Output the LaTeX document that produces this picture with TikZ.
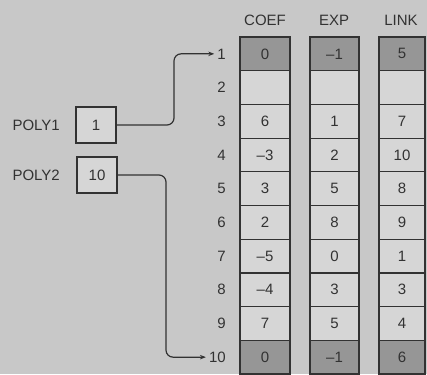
\documentclass[tikz,border=0pt]{standalone}
\usepackage{fontspec}
\setmainfont{Liberation Sans}
\usetikzlibrary{arrows.meta}
\definecolor{bg}{RGB}{200,200,200}
\definecolor{cell}{RGB}{214,214,214}
\definecolor{dark}{RGB}{150,150,150}
\definecolor{ink}{RGB}{50,50,50}
\begin{document}
\begin{tikzpicture}[x=1pt,y=-1pt,
  txt/.style={font=\fontsize{15}{17}\selectfont, text=ink, inner sep=0pt},
  cellbox/.style={txt, draw=ink, line width=1.2pt, fill=cell, minimum height=33.7pt, anchor=center},
  shaded/.style={fill=dark},
  ptr/.style={draw=ink, line width=1.2pt, rounded corners=7pt, -{Stealth[length=6pt,width=4.5pt]}},
  pbox/.style={txt, draw=ink, line width=1.4pt, fill=cell, minimum width=40pt, minimum height=36pt}]
\fill[bg] (0,0) rectangle (427,374);
\useasboundingbox (0,0) rectangle (427,374);
% headers
\node[txt] (hc) at (265,20) {COEF};
\node[txt] (he) at (334,20) {EXP};
\node[txt] (hl) at (401,20) {LINK};
% table
\foreach \i/\c/\e/\l in {1/0/–1/5,2/{}/{}/{},3/6/1/7,4/–3/2/10,5/3/5/8,6/2/8/9,7/–5/0/1,8/–4/3/3,9/7/5/4,10/0/–1/6}{
  \pgfmathsetmacro{\yy}{37+33.7*(\i-0.5)}
  \ifnum\i=1 \def\sh{shaded}\else\ifnum\i=10 \def\sh{shaded}\else\def\sh{}\fi\fi
  \node[txt, anchor=east] (r\i) at (226,\yy) {\i};
  \node[cellbox, minimum width=50pt, \sh] (c\i) at (265,\yy) {\c};
  \node[cellbox, minimum width=49pt, \sh] (e\i) at (334.5,\yy) {\e};
  \node[cellbox, minimum width=46pt, \sh] (l\i) at (402,\yy) {\l};
}
% pointers
\node[txt, anchor=east] (lp1) at (60,125) {POLY1};
\node[pbox] (p1) at (96,125) {1};
\node[txt, anchor=east] (lp2) at (60,175) {POLY2};
\node[pbox] (p2) at (97,175) {10};
\coordinate (k1) at (174,125);
\coordinate (k2) at (166,175);
\draw[ptr] (p1.east) -- (k1) |- ([xshift=-3pt]r1.west);
\draw[ptr] (p2.east) -- (k2) |- ([xshift=-3pt]r10.west);
\end{tikzpicture}
\end{document}
